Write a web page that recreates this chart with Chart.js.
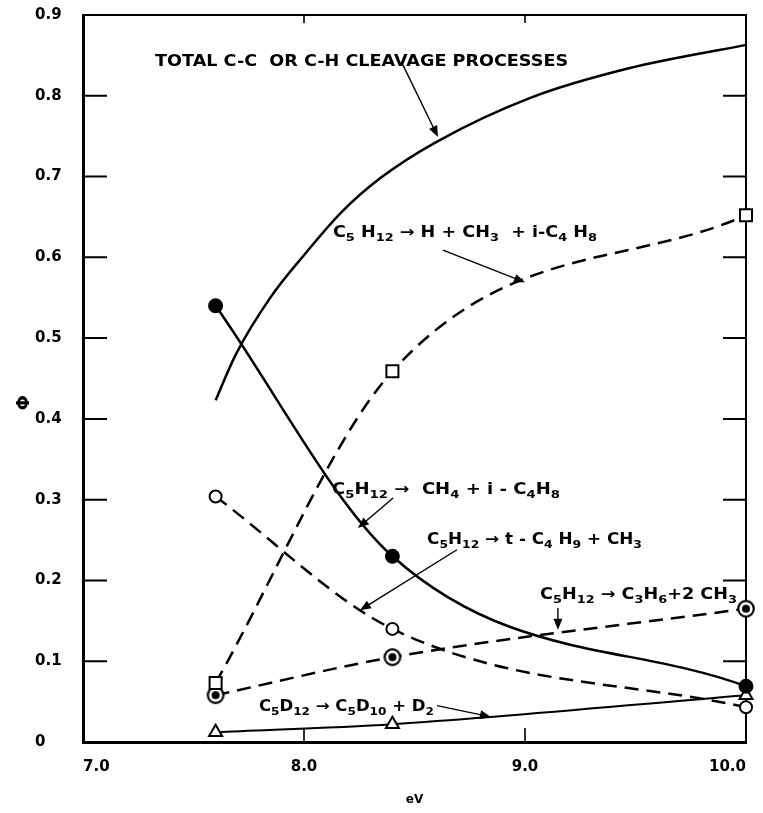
<!DOCTYPE html>
<html>
<head>
<meta charset="utf-8">
<script src="https://cdn.jsdelivr.net/npm/chart.js@4.4.0/dist/chart.umd.min.js"></script>
<style>
  html, body { margin: 0; padding: 0; background: #fff; }
  #wrap { width: 763px; height: 813px; }
</style>
</head>
<body>
<div id="wrap"><canvas id="phiChart" width="763" height="813"></canvas></div>
<script>
// ----------------------------
// Data
// ----------------------------
const energies = [7.6, 8.4, 10.0];            // eV
const ch4Iso = [0.54, 0.23, 0.069];          // C5H12 -> CH4 + i-C4H8
const hCh3Iso = [0.073, 0.459, 0.652];       // C5H12 -> H + CH3 + i-C4H8
const tButylCh3 = [0.304, 0.14, 0.043];      // C5H12 -> t-C4H9 + CH3
const propene2Ch3 = [0.058, 0.105, 0.165];   // C5H12 -> C3H6 + 2 CH3
const d2Elim = [0.012, 0.022, 0.058];        // C5D12 -> C5D10 + D2

const totalEnergies = [7.6, 7.69, 7.85, 8.01, 8.17, 8.35, 8.6, 9.03, 9.47, 10.0];
const totalCleavage = [0.423, 0.479, 0.551, 0.606, 0.656, 0.699, 0.743, 0.798, 0.834, 0.863];

const xTicks = [7, 8, 9, 10];
const yTicks = [0, 0.1, 0.2, 0.3, 0.4, 0.5, 0.6, 0.7, 0.8, 0.9];

// ----------------------------
// Annotation labels (data coordinates)
// ----------------------------
const NOTES = [
  { text: 'TOTAL C-C  OR C-H CLEAVAGE PROCESSES', x0: 7.326, x1: 9.195, y: 0.842, size: 16, arrow: [8.448, 0.838, 8.606, 0.749] },
  { text: 'C_5 H_12 → H + CH_3  + i-C_4 H_8', x0: 8.131, x1: 9.326, y: 0.630, size: 15, arrow: [8.629, 0.609, 9.0, 0.569] },
  { text: 'C_5H_12 →  CH_4 + i - C_4H_8', x0: 8.127, x1: 9.158, y: 0.312, size: 15, arrow: [8.403, 0.302, 8.244, 0.265] },
  { text: 'C_5H_12 → t - C_4 H_9 + CH_3', x0: 8.557, x1: 9.529, y: 0.250, size: 15, arrow: [8.692, 0.238, 8.253, 0.163] },
  { text: 'C_5H_12 → C_3H_6+2 CH_3', x0: 9.068, x1: 9.959, y: 0.182, size: 15, arrow: [9.149, 0.166, 9.149, 0.139] },
  { text: 'C_5D_12 → C_5D_10 + D_2', x0: 7.796, x1: 8.588, y: 0.043, size: 15, arrow: [8.602, 0.045, 8.846, 0.031] }
];

const FONT = '"DejaVu Sans", "Liberation Sans", sans-serif';
const INK = '#000';

// ----------------------------
// Marker images
// ----------------------------
const makeCircledDot = () => {
  const c = document.createElement('canvas');
  c.width = 20; c.height = 20;
  const g = c.getContext('2d');
  g.fillStyle = '#fff';
  g.strokeStyle = INK;
  g.lineWidth = 2.2;
  g.beginPath(); g.arc(10, 10, 7.8, 0, Math.PI * 2); g.fill(); g.stroke();
  g.fillStyle = INK;
  g.beginPath(); g.arc(10, 10, 4, 0, Math.PI * 2); g.fill();
  return c;
};

const toXY = (xs, ys) => xs.map((x, i) => ({ x, y: ys[i] }));

const series = (label, ys, opts) => Object.assign({
  label,
  data: toXY(energies, ys),
  borderColor: INK,
  borderWidth: 2.5,
  pointBorderColor: INK,
  pointBorderWidth: 2,
  cubicInterpolationMode: 'monotone',
  clip: false,
  fill: false
}, opts);

// ----------------------------
// Drawing helpers
// ----------------------------
const drawRich = (ctx, note, px0, px1, py) => {
  const parts = note.text.split(/(_\d+)/).filter(Boolean);
  const main = `bold ${note.size}px ${FONT}`;
  const sub = `bold ${Math.round(note.size * 0.75)}px ${FONT}`;
  let w = 0;
  parts.forEach(p => {
    ctx.font = p[0] === '_' ? sub : main;
    w += ctx.measureText(p[0] === '_' ? p.slice(1) : p).width;
  });
  ctx.save();
  ctx.translate(px0, py);
  ctx.scale((px1 - px0) / w, 1);
  ctx.textBaseline = 'middle';
  ctx.textAlign = 'left';
  ctx.fillStyle = INK;
  let cx = 0;
  parts.forEach(p => {
    const isSub = p[0] === '_';
    const t = isSub ? p.slice(1) : p;
    ctx.font = isSub ? sub : main;
    ctx.fillText(t, cx, isSub ? 5 : 0);
    cx += ctx.measureText(t).width;
  });
  ctx.restore();
};

const drawArrow = (ctx, x1, y1, x2, y2) => {
  const a = Math.atan2(y2 - y1, x2 - x1);
  const len = 11, half = 4.5;
  ctx.save();
  ctx.strokeStyle = INK;
  ctx.fillStyle = INK;
  ctx.lineWidth = 1.4;
  ctx.beginPath();
  ctx.moveTo(x1, y1);
  ctx.lineTo(x2 - Math.cos(a) * len * 0.8, y2 - Math.sin(a) * len * 0.8);
  ctx.stroke();
  ctx.beginPath();
  ctx.moveTo(x2, y2);
  ctx.lineTo(x2 - Math.cos(a) * len - Math.sin(a) * half, y2 - Math.sin(a) * len + Math.cos(a) * half);
  ctx.lineTo(x2 - Math.cos(a) * len + Math.sin(a) * half, y2 - Math.sin(a) * len - Math.cos(a) * half);
  ctx.closePath();
  ctx.fill();
  ctx.restore();
};

// frame, inward ticks, y title and annotations
const figurePlugin = {
  id: 'figure',
  beforeDatasetsDraw(chart) {
    const { ctx, chartArea: a, scales: { x, y } } = chart;
    ctx.save();
    ctx.strokeStyle = INK;
    ctx.lineCap = 'butt';
    // right and top frame
    ctx.lineWidth = 2;
    ctx.beginPath();
    ctx.moveTo(a.right, a.bottom + 1);
    ctx.lineTo(a.right, a.top);
    ctx.lineTo(a.left, a.top);
    ctx.stroke();
    // y ticks on both sides, pointing inward
    yTicks.slice(1, -1).forEach(v => {
      const py = y.getPixelForValue(v);
      ctx.lineWidth = 2;
      ctx.beginPath();
      ctx.moveTo(a.left, py); ctx.lineTo(a.left + 24, py);
      ctx.moveTo(a.right, py); ctx.lineTo(a.right - 23, py);
      ctx.stroke();
    });
    // x ticks bottom and top
    xTicks.slice(1, -1).forEach(v => {
      const px = x.getPixelForValue(v);
      ctx.lineWidth = 1.6;
      ctx.beginPath();
      ctx.moveTo(px, a.bottom); ctx.lineTo(px, a.bottom - 14);
      ctx.moveTo(px, a.top); ctx.lineTo(px, a.top + 8);
      ctx.stroke();
    });
    ctx.restore();
  },
  afterDraw(chart) {
    const { ctx, scales: { x, y } } = chart;
    // y axis title
    ctx.save();
    ctx.translate(24, y.getPixelForValue(0.42));
    ctx.rotate(-Math.PI / 2);
    ctx.font = `bold 18px ${FONT}`;
    ctx.fillStyle = INK;
    ctx.textAlign = 'center';
    ctx.textBaseline = 'middle';
    ctx.fillText('Φ', 0, 0);
    ctx.restore();

    NOTES.forEach(n => {
      drawRich(ctx, n, x.getPixelForValue(n.x0), x.getPixelForValue(n.x1), y.getPixelForValue(n.y));
      const [ax1, ay1, ax2, ay2] = n.arrow;
      drawArrow(ctx, x.getPixelForValue(ax1), y.getPixelForValue(ay1), x.getPixelForValue(ax2), y.getPixelForValue(ay2));
    });
  }
};

const DASH = [14, 8];

const datasets = [
  {
    label: 'Total C-C or C-H cleavage processes',
    data: toXY(totalEnergies, totalCleavage),
    borderColor: INK,
    borderWidth: 2.5,
    pointRadius: 0,
    cubicInterpolationMode: 'monotone',
    clip: false,
    fill: false
  },
  series('C5H12 → H + CH3 + i-C4H8', hCh3Iso, {
    borderDash: DASH, pointStyle: 'rect', pointRadius: 8.5, pointBackgroundColor: '#fff'
  }),
  series('C5H12 → CH4 + i-C4H8', ch4Iso, {
    pointStyle: 'circle', pointRadius: 6.5, pointBackgroundColor: INK
  }),
  series('C5H12 → t-C4H9 + CH3', tButylCh3, {
    borderDash: DASH, pointStyle: 'circle', pointRadius: 6, pointBackgroundColor: '#fff'
  }),
  series('C5H12 → C3H6 + 2 CH3', propene2Ch3, {
    borderDash: DASH, pointStyle: makeCircledDot(), pointRadius: 9
  }),
  series('C5D12 → C5D10 + D2', d2Elim, {
    borderWidth: 2, pointStyle: 'triangle', pointRadius: 7.5, pointBackgroundColor: '#fff'
  })
];

new Chart(document.getElementById('phiChart').getContext('2d'), {
  type: 'line',
  data: { datasets },
  options: {
    responsive: false,
    animation: false,
    devicePixelRatio: 1,
    events: [],
    layout: { padding: { left: 35, right: 17, top: 15, bottom: 0 } },
    plugins: { legend: { display: false }, tooltip: { enabled: false } },
    scales: {
      x: {
        type: 'linear',
        min: 7, max: 10,
        afterBuildTicks: s => { s.ticks = xTicks.map(value => ({ value })); },
        afterFit: s => { s.height = 71; },
        grid: { display: false },
        border: { display: true, color: INK, width: 3 },
        ticks: {
          align: 'inner',
          padding: 8,
          color: INK,
          font: { family: FONT, size: 15, weight: 'bold' },
          callback: v => v.toFixed(1)
        },
        title: {
          display: true,
          text: 'eV',
          color: INK,
          font: { family: FONT, size: 12, weight: 'bold' },
          padding: { top: 0, bottom: 6 }
        }
      },
      y: {
        min: 0, max: 0.9,
        afterBuildTicks: s => { s.ticks = yTicks.map(value => ({ value })); },
        afterFit: s => { s.width = 48; },
        grid: { display: false },
        border: { display: true, color: INK, width: 3 },
        ticks: {
          crossAlign: 'far',
          color: INK,
          font: { family: FONT, size: 15, weight: 'bold' },
          callback: v => (v === 0 ? '0' : v.toFixed(1))
        }
      }
    }
  },
  plugins: [figurePlugin]
});
</script>
</body>
</html>
